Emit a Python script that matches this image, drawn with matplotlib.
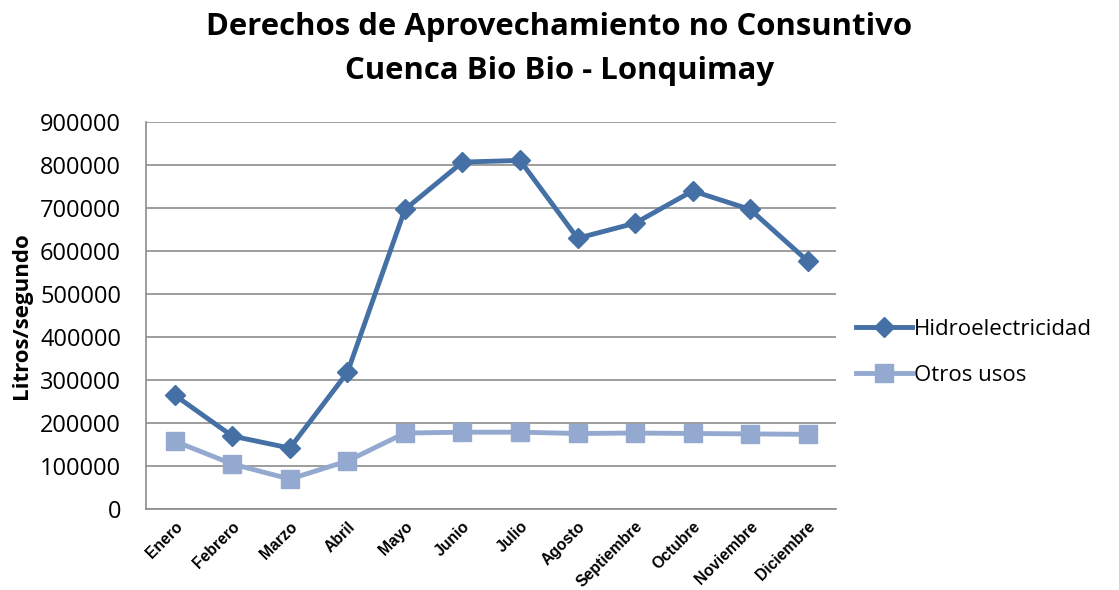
import matplotlib
matplotlib.use("Agg")
import matplotlib.pyplot as plt

months = ["Enero", "Febrero", "Marzo", "Abril", "Mayo", "Junio", "Julio",
          "Agosto", "Septiembre", "Octubre", "Noviembre", "Diciembre"]
hidro = [265000, 170000, 142000, 318000, 697000, 807000, 811000,
         630000, 665000, 740000, 697000, 577000]
otros = [158000, 105000, 70000, 112000, 177000, 179000, 179000,
         176000, 177000, 176000, 175000, 174000]
yticks = list(range(0, 900001, 100000))

fig = plt.figure(figsize=(11.19, 5.9), dpi=100)
ax = fig.add_axes([0.1305, 0.137, 0.617, 0.656])

x = list(range(len(months)))
ax.plot(x, hidro, color="#4470A6", lw=3.5, marker="D", ms=10.5,
        label="Hidroelectricidad", zorder=3)
ax.plot(x, otros, color="#93A9D0", lw=3.5, marker="s", ms=13.5,
        label="Otros usos", zorder=3)

ax.set_xlim(-0.5, len(months) - 0.5)
ax.set_ylim(0, 900000)
ax.set_yticks(yticks)
ax.set_yticklabels([str(v) for v in yticks], fontsize=17, family="Open Sans")
ax.set_xticks(x)
ax.set_xticklabels(months, rotation=45, ha="right", rotation_mode="anchor",
                   fontsize=11.3, fontweight="bold", family="Liberation Sans")
ax.tick_params(axis="y", length=0, pad=18)
ax.tick_params(axis="x", length=0, pad=7)
ax.grid(axis="y", color="#8C8C8C", lw=1.2)
ax.set_axisbelow(True)
for s in ["top", "right"]:
    ax.spines[s].set_visible(False)
for s in ["left", "bottom"]:
    ax.spines[s].set_color("#8C8C8C")
    ax.spines[s].set_linewidth(1.2)

ax.set_ylabel("Litros/segundo", fontsize=16, fontweight="bold", family="Open Sans",
              labelpad=6)

fig.suptitle("Derechos de Aprovechamiento no Consuntivo\nCuenca Bio Bio - Lonquimay",
             fontsize=22.4, fontweight="bold", family="Open Sans", y=0.98,
             linespacing=1.6)

ax.legend(loc="center left", bbox_to_anchor=(1.0, 0.405), frameon=False,
          prop={"family": "Open Sans", "size": 16}, handlelength=2.5,
          labelspacing=1.15, handletextpad=0.1)

fig.savefig("out.png", dpi=100)
